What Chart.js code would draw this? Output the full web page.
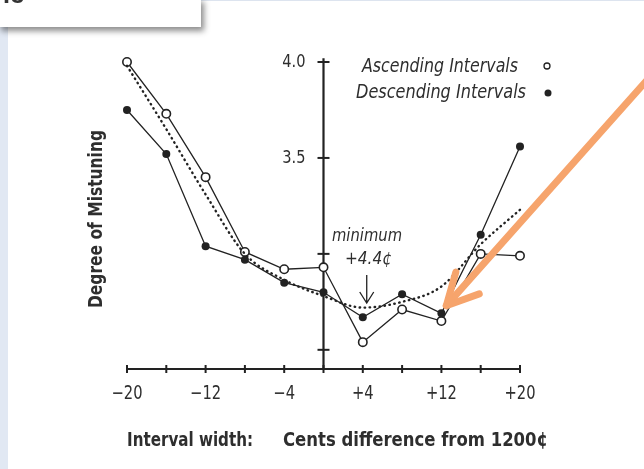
<!DOCTYPE html>
<html lang="en">
<head>
    <meta charset="UTF-8">
    <title>Degree of Mistuning</title>
    <script src="https://cdn.jsdelivr.net/npm/chart.js"></script>
    <style>
        body { margin: 0; background: #fff; }
        #wrap { position: relative; width: 644px; height: 469px; overflow: hidden; background: #fff; }
        #strip { position: absolute; left: 0; top: 27px; width: 8px; height: 442px; background: #e1e8f3; }
        #topline { position: absolute; left: 201px; top: 0; right: 0; height: 1px; background: #dde4ef; }
        #myChart { position: absolute; left: 0; top: 0; }
        #box { position: absolute; left: -2px; top: -2px; width: 203px; height: 29px; background: #fff;
               box-shadow: 3px 4px 6px rgba(0,0,0,0.45); overflow: hidden; }
        #box span { position: absolute; left: -4px; top: -19px; font: bold 26px 'Liberation Sans', sans-serif; color: #333; }
    </style>
</head>
<body>
<div id="wrap">
    <div id="strip"></div>
    <div id="topline"></div>
    <canvas id="myChart" width="644" height="469"></canvas>
    <div id="box"><span>ne</span></div>
</div>

<script>
    // values
    const cents = [-20, -16, -12, -8, -4, 0, 4, 8, 12, 16, 20];
    const ascending = [4.00, 3.73, 3.40, 3.01, 2.92, 2.93, 2.54, 2.71, 2.65, 3.00, 2.99];
    const descending = [3.75, 3.52, 3.04, 2.97, 2.85, 2.80, 2.67, 2.79, 2.69, 3.10, 3.56];
    const fitted = [3.98, 3.65, 3.31, 3.00, 2.865, 2.78, 2.72, 2.75, 2.83, 3.05, 3.23];

    const xTicks = [-20, -16, -12, -8, -4, 0, 4, 8, 12, 16, 20];
    const xTickLabels = ['\u221220', '\u221212', '\u22124', '+4', '+12', '+20'];
    const xLabelValues = [-20, -12, -4, 4, 12, 20];
    const yTicks = [2.5, 3.0, 3.5, 4.0];
    const yTickLabels = ['3.5', '4.0'];
    const yLabelValues = [3.5, 4.0];

    const ink = '#222';
    const textCol = '#2e2e2e';
    const face = "'DejaVu Sans Condensed', 'DejaVu Sans', sans-serif";

    function pts(vals) {
        return cents.map((c, i) => ({ x: c, y: vals[i] }));
    }

    // squeeze text horizontally (the scan uses a condensed face)
    function narrowText(ctx, text, x, y, sx, align) {
        const w = ctx.measureText(text).width * sx;
        let left = x;
        if (align === 'center') left = x - w / 2;
        if (align === 'right') left = x - w;
        ctx.save();
        ctx.textAlign = 'left';
        ctx.translate(left, y);
        ctx.scale(sx, 1);
        ctx.fillText(text, 0, 0);
        ctx.restore();
    }
    function fitText(ctx, text, x, y, width) {
        const sx = width / ctx.measureText(text).width;
        narrowText(ctx, text, x, y, sx, 'left');
    }

    // axes, labels, legend and notes drawn with the chart's own scales
    const decor = {
        id: 'decor',
        beforeDatasetsDraw(chart) {
            const ctx = chart.ctx;
            const xs = chart.scales.x, ys = chart.scales.y;
            const x0 = xs.getPixelForValue(0);
            const yb = ys.getPixelForValue(2.4);
            ctx.save();
            ctx.strokeStyle = ink;
            ctx.lineWidth = 2;
            // x axis
            ctx.beginPath();
            ctx.moveTo(xs.getPixelForValue(-20), yb);
            ctx.lineTo(xs.getPixelForValue(20), yb);
            ctx.stroke();
            xTicks.forEach(v => {
                const p = xs.getPixelForValue(v);
                ctx.beginPath();
                ctx.moveTo(p, yb - 4);
                ctx.lineTo(p, yb + 4);
                ctx.stroke();
            });
            // y axis at zero cents
            ctx.lineWidth = 2.2;
            ctx.beginPath();
            ctx.moveTo(x0, ys.getPixelForValue(4.02));
            ctx.lineTo(x0, yb);
            ctx.stroke();
            ctx.lineWidth = 2;
            yTicks.forEach(v => {
                const p = ys.getPixelForValue(v);
                ctx.beginPath();
                ctx.moveTo(x0 - 6, p);
                ctx.lineTo(x0 + 6, p);
                ctx.stroke();
            });

            // tick labels
            ctx.fillStyle = textCol;
            ctx.font = '19px ' + face;
            ctx.textBaseline = 'middle';
            xLabelValues.forEach((v, i) => {
                narrowText(ctx, xTickLabels[i], xs.getPixelForValue(v), yb + 25, 0.86, 'center');
            });
            ctx.font = '18px ' + face;
            yLabelValues.forEach((v, i) => {
                narrowText(ctx, yTickLabels[i], x0 - 18, ys.getPixelForValue(v), 0.9, 'right');
            });

            // axis titles
            ctx.font = 'bold 19px ' + face;
            fitText(ctx, 'Interval width:', 127, 441, 126);
            fitText(ctx, 'Cents difference from 1200\u00a2', 283, 441, 265);
            ctx.save();
            ctx.translate(97, 308);
            ctx.rotate(-Math.PI / 2);
            fitText(ctx, 'Degree of Mistuning', 0, 0, 178);
            ctx.restore();

            // legend
            ctx.font = 'italic 19px ' + face;
            ctx.textBaseline = 'alphabetic';
            fitText(ctx, 'Ascending Intervals', 362, 72, 156);
            fitText(ctx, 'Descending Intervals', 356, 98, 170);
            ctx.lineWidth = 1.3;
            ctx.beginPath();
            ctx.arc(547, 66, 3, 0, Math.PI * 2);
            ctx.stroke();
            ctx.fillStyle = ink;
            ctx.beginPath();
            ctx.arc(548, 93, 3.5, 0, Math.PI * 2);
            ctx.fill();

            // minimum note
            ctx.fillStyle = textCol;
            ctx.font = 'italic 17px ' + face;
            const mx = xs.getPixelForValue(4.4);
            fitText(ctx, 'minimum', 332, 241, 70);
            fitText(ctx, '+4.4\u00a2', 345, 264, 47);
            ctx.lineWidth = 1.3;
            ctx.beginPath();
            ctx.moveTo(mx, 275);
            ctx.lineTo(mx, 303);
            ctx.moveTo(mx - 7, 292);
            ctx.lineTo(mx, 303);
            ctx.lineTo(mx + 7, 292);
            ctx.stroke();
            ctx.restore();
        },
        afterDraw(chart) {
            // orange pointer drawn over the figure
            const ctx = chart.ctx;
            const xs = chart.scales.x, ys = chart.scales.y;
            const tx = xs.getPixelForValue(12.5), ty = ys.getPixelForValue(2.73);
            const ex = xs.getPixelForValue(33), ey = ys.getPixelForValue(3.91);
            const ang = Math.atan2(ey - ty, ex - tx);
            ctx.save();
            ctx.strokeStyle = '#f6a46c';
            ctx.lineWidth = 7;
            ctx.lineCap = 'round';
            ctx.lineJoin = 'round';
            ctx.beginPath();
            ctx.moveTo(ex, ey);
            ctx.lineTo(tx, ty);
            ctx.stroke();
            ctx.beginPath();
            ctx.moveTo(tx + 35 * Math.cos(ang - 0.45), ty + 35 * Math.sin(ang - 0.45));
            ctx.lineTo(tx, ty);
            ctx.lineTo(tx + 35 * Math.cos(ang + 0.5), ty + 35 * Math.sin(ang + 0.5));
            ctx.stroke();
            ctx.restore();
        }
    };

    new Chart(document.getElementById('myChart'), {
        type: 'line',
        data: {
            datasets: [
                {
                    label: 'fit',
                    data: pts(fitted),
                    borderColor: ink,
                    borderWidth: 2.4,
                    borderDash: [0.5, 4.5],
                    borderCapStyle: 'round',
                    cubicInterpolationMode: 'monotone',
                    pointRadius: 0,
                    clip: false
                },
                {
                    label: 'Descending Intervals',
                    data: pts(descending),
                    borderColor: ink,
                    borderWidth: 1.3,
                    backgroundColor: ink,
                    pointRadius: 4,
                    pointBorderWidth: 0,
                    pointBackgroundColor: ink,
                    clip: false
                },
                {
                    label: 'Ascending Intervals',
                    data: pts(ascending),
                    borderColor: ink,
                    borderWidth: 1.3,
                    pointRadius: 4.2,
                    pointBorderWidth: 1.6,
                    pointBorderColor: ink,
                    pointBackgroundColor: '#fff',
                    clip: false
                }
            ]
        },
        options: {
            responsive: false,
            animation: false,
            layout: { padding: { left: 127, right: 124, top: 62, bottom: 100 } },
            scales: {
                x: { type: 'linear', min: -20, max: 20, display: false },
                y: { type: 'linear', min: 2.4, max: 4.0, display: false }
            },
            plugins: { legend: { display: false }, tooltip: { enabled: false } }
        },
        plugins: [decor]
    });
</script>
</body>
</html>
